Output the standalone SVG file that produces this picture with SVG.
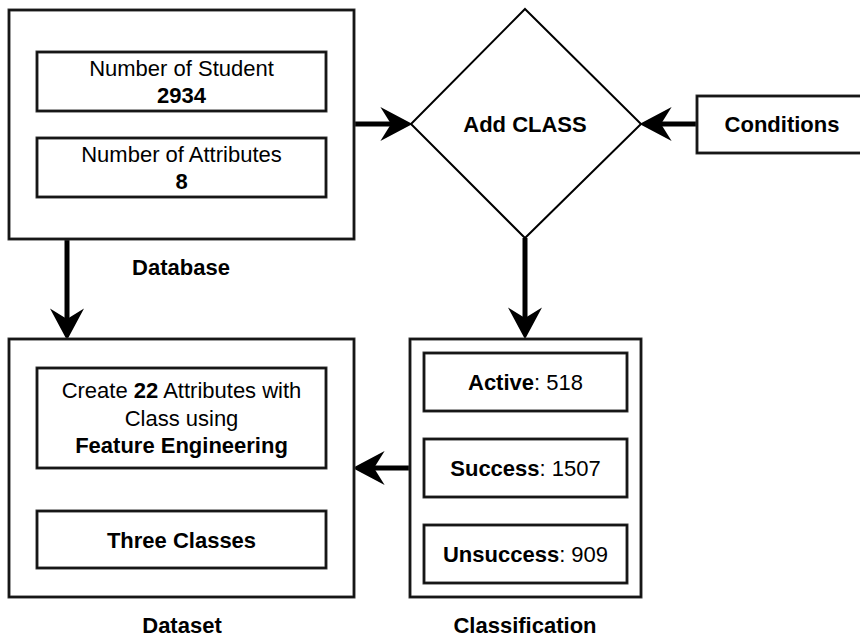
<svg xmlns="http://www.w3.org/2000/svg" width="860" height="639" viewBox="0 0 860 639">
<style>
.box{fill:#fff;stroke:#3a3a3a;stroke-width:3}
.inner{fill:none;stroke:#000;stroke-width:1.2}
.dia{fill:#fff;stroke:#000;stroke-width:2}
.t{font-family:"Liberation Sans",Arial,sans-serif;font-size:22px;fill:#000;text-anchor:middle}
.b{font-weight:bold}
.edge{stroke:#000;stroke-width:5;fill:none}
</style>
<defs>
<marker id="ah" markerUnits="userSpaceOnUse" markerWidth="32" markerHeight="34" refX="10" refY="16" orient="auto" viewBox="0 0 30 32">
<path d="M0,0 L30,16 L0,32 L10,16 Z" fill="#000"/>
</marker>
</defs>
<rect width="860" height="639" fill="#fff"/>
<g id="connectors">
<path class="edge" d="M354,124 H391" marker-end="url(#ah)"/>
<path class="edge" d="M697,124 H661" marker-end="url(#ah)"/>
<path class="edge" d="M525,238 V318" marker-end="url(#ah)"/>
<path class="edge" d="M67,239 V319" marker-end="url(#ah)"/>
<path class="edge" d="M410,468 H374" marker-end="url(#ah)"/>
</g>
<g id="database">
<rect class="box" x="9" y="10" width="345" height="229"/>
<rect class="inner" x="9" y="10" width="345" height="229"/>
<g id="students">
<rect class="box" x="37" y="52" width="289" height="59"/>
<rect class="inner" x="37" y="52" width="289" height="59"/>
<text class="t" x="181.5" y="76">Number of Student</text>
<text class="t b" x="181.5" y="103">2934</text>
</g>
<g id="attributes">
<rect class="box" x="37" y="138" width="289" height="59"/>
<rect class="inner" x="37" y="138" width="289" height="59"/>
<text class="t" x="181.5" y="162">Number of Attributes</text>
<text class="t b" x="181.5" y="189">8</text>
</g>
<text class="t b" x="181" y="275">Database</text>
</g>
<g id="addclass">
<path class="dia" d="M525,9 L641,124 L525,238 L411,124 Z"/>
<text class="t b" x="525" y="132">Add CLASS</text>
</g>
<g id="conditions">
<rect class="box" x="697" y="96" width="175" height="57"/>
<rect class="inner" x="697" y="96" width="175" height="57"/>
<text class="t b" x="782" y="132">Conditions</text>
</g>
<g id="dataset">
<rect class="box" x="9" y="339" width="345" height="258"/>
<rect class="inner" x="9" y="339" width="345" height="258"/>
<g id="create">
<rect class="box" x="37" y="368" width="289" height="100"/>
<rect class="inner" x="37" y="368" width="289" height="100"/>
<text class="t" x="181.5" y="398">Create <tspan class="b">22</tspan> Attributes with</text>
<text class="t" x="181.5" y="426">Class using</text>
<text class="t b" x="181.5" y="453">Feature Engineering</text>
</g>
<g id="three">
<rect class="box" x="37" y="511" width="289" height="57"/>
<rect class="inner" x="37" y="511" width="289" height="57"/>
<text class="t b" x="181.5" y="548">Three Classes</text>
</g>
<text class="t b" x="182" y="633">Dataset</text>
</g>
<g id="classification">
<rect class="box" x="410" y="339" width="231" height="258"/>
<rect class="inner" x="410" y="339" width="231" height="258"/>
<g id="active">
<rect class="box" x="424" y="353" width="203" height="58"/>
<rect class="inner" x="424" y="353" width="203" height="58"/>
<text class="t" x="525.5" y="390"><tspan class="b">Active</tspan>: 518</text>
</g>
<g id="success">
<rect class="box" x="424" y="439" width="203" height="58"/>
<rect class="inner" x="424" y="439" width="203" height="58"/>
<text class="t" x="525.5" y="476"><tspan class="b">Success</tspan>: 1507</text>
</g>
<g id="unsuccess">
<rect class="box" x="424" y="525" width="203" height="58"/>
<rect class="inner" x="424" y="525" width="203" height="58"/>
<text class="t" x="525.5" y="562"><tspan class="b">Unsuccess</tspan>: 909</text>
</g>
<text class="t b" x="525" y="633">Classification</text>
</g>
</svg>
